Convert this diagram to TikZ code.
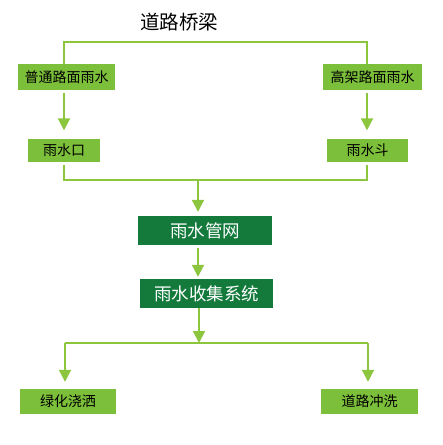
\documentclass[tikz,border=0pt]{standalone}
\usepackage{fontspec}
\setmainfont{Noto Sans CJK SC}
\usetikzlibrary{arrows.meta}
\definecolor{lgreen}{HTML}{7CBF3A}
\definecolor{lline}{HTML}{8CC63F}
\definecolor{dgreen}{HTML}{137A3C}
\begin{document}
\begin{tikzpicture}[x=1pt,y=-1pt,
  lbox/.style={draw=none,fill=lgreen,inner sep=0pt,text=black,font=\fontsize{14}{15}\selectfont},
  dbox/.style={draw=none,fill=dgreen,inner sep=0pt,text=white,font=\fontsize{17.5}{18}\selectfont},
  conn/.style={draw=lline,line width=2pt},
  arr/.style={conn,-{Triangle[width=12pt,length=12pt]}}]
\useasboundingbox (0,0) rectangle (443,445);
\node[font=\fontsize{19.5}{21}\selectfont] (title) at (179,22) {道路桥梁};
\node[lbox,minimum width=97pt,minimum height=26pt] (a1) at (66.5,77) {普通路面雨水};
\node[lbox,minimum width=99pt,minimum height=26pt] (a2) at (372.5,77) {高架路面雨水};
\node[lbox,minimum width=72pt,minimum height=23pt] (b1) at (64,150) {雨水口};
\node[lbox,minimum width=81pt,minimum height=23pt] (b2) at (367.5,150) {雨水斗};
\node[dbox,minimum width=134pt,minimum height=29pt] (c) at (205,230.5) {雨水管网};
\node[dbox,minimum width=133pt,minimum height=29pt] (d) at (206.5,293.5) {雨水收集系统};
\node[lbox,minimum width=96pt,minimum height=25pt] (e1) at (68,401.5) {绿化浇洒};
\node[lbox,minimum width=97pt,minimum height=25pt] (e2) at (369.5,401.5) {道路冲洗};
\coordinate (t1) at (64,42);
\coordinate (t2) at (367,42);
\coordinate (m1) at (64,180);
\coordinate (m2) at (367,180);
\coordinate (mc) at (198,180);
\coordinate (n1) at (65,343);
\coordinate (n2) at (368,343);
\coordinate (nc) at (199,343);
\draw[conn] (a1.north -| t1) -- (t1) -- (t2) -- (a2.north -| t2);
\draw[arr] ([yshift=-3pt]a1.south -| t1) -- ([yshift=8pt]b1.north -| t1);
\draw[arr] ([yshift=-3pt]a2.south -| t2) -- ([yshift=8pt]b2.north -| t2);
\draw[conn] ([yshift=-3pt]b1.south -| m1) -- (m1) -- (m2) -- ([yshift=-3pt]b2.south -| m2);
\draw[arr] (mc) -- ([yshift=4pt]c.north -| mc);
\draw[arr] ([yshift=-3pt]c.south -| mc) -- ([yshift=2pt]d.north -| mc);
\draw[arr] (d.south -| nc) -- (nc);
\draw[conn] (nc) -- (n1);
\draw[conn] (nc) -- (n2);
\draw[arr] (n1) -- ([yshift=7pt]e1.north -| n1);
\draw[arr] (n2) -- ([yshift=7pt]e2.north -| n2);
\end{tikzpicture}
\end{document}
